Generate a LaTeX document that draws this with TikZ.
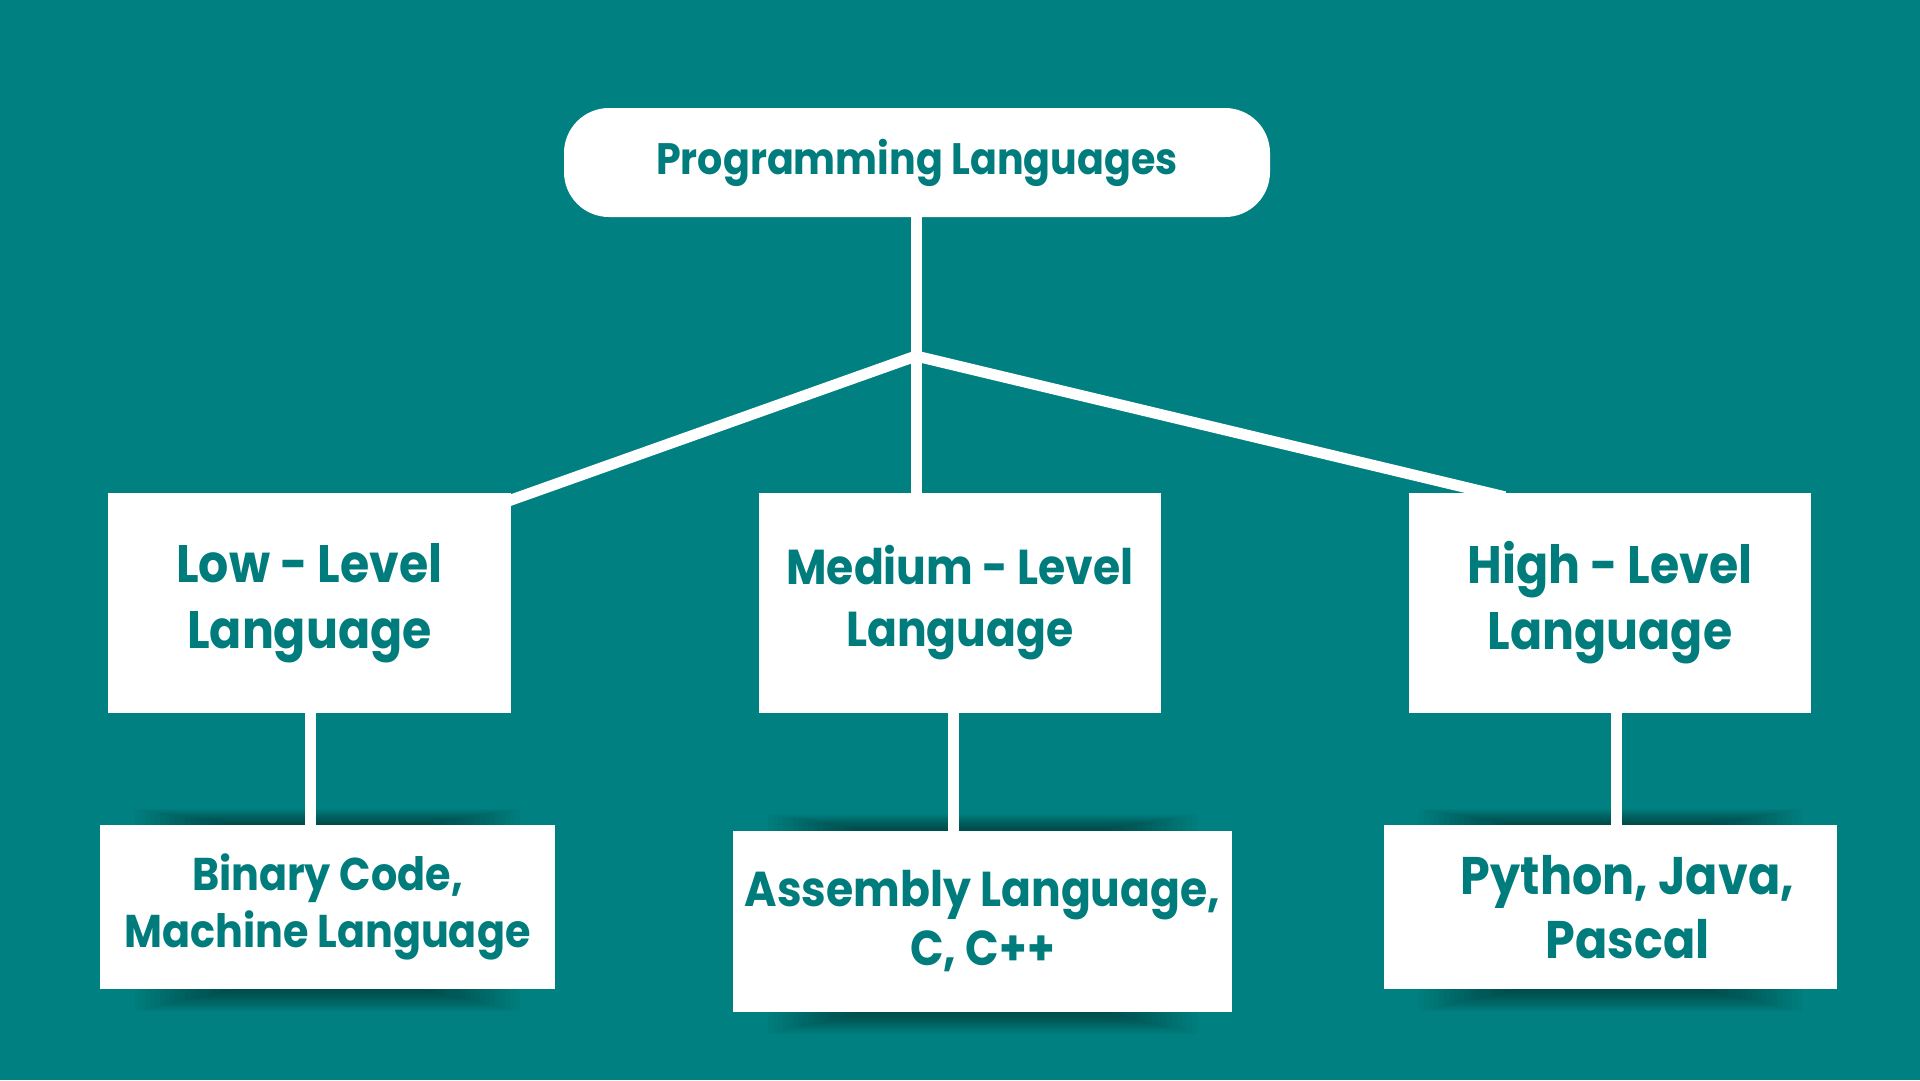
\documentclass[tikz,border=0pt]{standalone}
\usepackage{fontspec}
\setmainfont{Poppins}[FakeStretch=0.9]
\usetikzlibrary{calc}
\definecolor{tealbg}{RGB}{0,128,128}
\definecolor{tealtx}{RGB}{0,124,124}
\definecolor{shadowc}{RGB}{0,30,30}
\pgfdeclarelayer{bg}
\pgfdeclarelayer{lines}
\pgfsetlayers{bg,lines,main}
\tikzset{
  box/.style={fill=white, draw=none, inner sep=0pt, align=center, text=tealtx, font=\bfseries},
  upbox/.style={box, minimum width=402pt, minimum height=220pt},
  conn/.style={draw=white, line width=11pt, line join=miter},
  shadowpiece/.style={fill=shadowc, opacity=0.03}
}
\newcommand{\softshadow}[1]{%
  \foreach \i in {1,...,20}{%
    \fill[shadowpiece] ($(#1.north west)+(135-5*\i,-\i*0.8)$) rectangle ($(#1.south east)+(-135+5*\i,\i*1.1)$);
  }}
\begin{document}
\begin{tikzpicture}[x=1pt,y=-1pt]
\useasboundingbox (0,0) rectangle (1920,1080);

\node[box, minimum width=706pt, minimum height=109pt, rounded corners=45pt,
      font=\bfseries\fontsize{44}{54}\selectfont] (top) at (917,162.5) {Programming Languages};

\node[upbox, minimum width=403pt, font=\bfseries\fontsize{52.7}{66}\selectfont] (L1) at (309.5,603) {Low - Level\\Language};
\node[upbox, font=\bfseries\fontsize{49}{62}\selectfont] (M1) at (960,603) {Medium - Level\\Language};
\node[upbox, font=\bfseries\fontsize{52.7}{66}\selectfont] (H1) at (1610,603) {High - Level\\Language};

\node[box, minimum width=455pt, minimum height=164pt, font=\bfseries\fontsize{45.9}{57}\selectfont] (L2) at (327.5,907) {Binary Code,\\Machine Language};
\node[box, minimum width=499pt, minimum height=181pt, font=\bfseries\fontsize{49}{59}\selectfont] (M2) at (982.5,921) {Assembly Language,\\C, C++};
\node[box, minimum width=453pt, minimum height=164pt, font=\bfseries\fontsize{52.9}{64}\selectfont] (H2) at (1610.5,907) {\hspace*{34pt}Python, Java,\\\hspace*{34pt}Pascal};

\coordinate (J) at (916,356);
\begin{pgfonlayer}{bg}
\fill[tealbg] (0,0) rectangle (1920,1080);
\softshadow{L2}
\softshadow{M2}
\softshadow{H2}
\end{pgfonlayer}
\begin{pgfonlayer}{lines}
\draw[conn] ($(J |- top.south)+(0,-2)$) -- ($(J |- M1.north)+(0,3)$);
\draw[conn] ($(L1.north east)+(-8,10)$) -- (J) -- ($(H1.north west)+(96,4)$);
\draw[conn] ($(L1.south)+(0.5,-2)$) -- ($(L1.south |- L2.north)+(0.5,3)$);
\draw[conn] ($(M1.south)+(-7,-2)$) -- ($(M1.south |- M2.north)+(-7,3)$);
\draw[conn] ($(H1.south)+(6,-2)$) -- ($(H1.south |- H2.north)+(6,3)$);
\end{pgfonlayer}
\end{tikzpicture}
\end{document}
